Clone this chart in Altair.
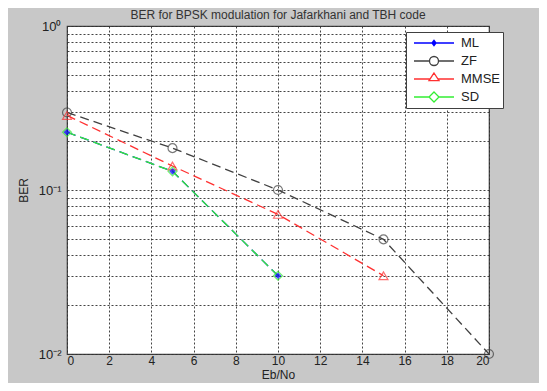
import altair as alt
import pandas as pd

title_text = "BER for BPSK modulation for Jafarkhani and TBH code"
series = ["ML", "ZF", "MMSE", "SD"]
colors = ["#0000ff", "#404040", "#ff3030", "#33ee33"]

x_ml = [0, 5, 10]
ber_ml = [0.225, 0.13, 0.03]
x_zf = [0, 5, 10, 15, 20]
ber_zf = [0.297, 0.18, 0.1, 0.05, 0.01]
x_mmse = [0, 5, 10, 15]
ber_mmse = [0.285, 0.14, 0.071, 0.03]
x_sd = [0, 5, 10]
ber_sd = [0.225, 0.13, 0.03]

x_ticks = list(range(0, 21, 2))
y_ticks = [k * 0.01 for k in range(1, 10)] + [k * 0.1 for k in range(1, 11)]

rows = []
for name, xs, ys in [("ML", x_ml, ber_ml), ("ZF", x_zf, ber_zf),
                     ("MMSE", x_mmse, ber_mmse), ("SD", x_sd, ber_sd)]:
    for i, (a, b) in enumerate(zip(xs, ys)):
        rows.append({"series": name, "x": a, "ber": b, "idx": i})
df = pd.DataFrame(rows)

legend_paths = [
    "M-1,0H1M-0.1,0L0,-0.13L0.1,0L0,0.13ZM-0.05,0L0,-0.06L0.05,0L0,0.06Z",
    "M-1,0H-0.225M0.225,0H1M0.225,0A0.225,0.225,0,1,1,-0.225,0A0.225,0.225,0,1,1,0.225,0Z",
    "M-1,0H-0.22M0.22,0H1M0,-0.3L0.25,0.08L-0.25,0.08Z",
    "M-1,0H-0.25M0.25,0H1M0,-0.25L0.25,0L0,0.25L-0.25,0Z",
]

font = "Liberation Sans"
xenc = alt.X("x:Q", scale=alt.Scale(domain=[0, 20], nice=False),
             axis=alt.Axis(values=x_ticks, format="d", title="Eb/No", grid=True,
                           gridDash=[2, 2], gridColor="#303030", gridOpacity=0.9,
                           domain=False, ticks=False, labelPadding=1,
                           titlePadding=3, labelFontSize=12))
yenc = alt.Y("ber:Q", scale=alt.Scale(type="log", domain=[0.01, 1], nice=False),
             axis=alt.Axis(values=y_ticks, title="BER", grid=True,
                           gridDash=[2, 2], gridColor="#303030", gridOpacity=0.9,
                           domain=False, ticks=False, labelPadding=6,
                           titlePadding=8,
                           labelExpr="datum.value > 0.99 ? '10\u2070' : (abs(datum.value - 0.1) < 1e-9 ? '10\u207b\u00b9' : (abs(datum.value - 0.01) < 1e-9 ? '10\u207b\u00b2' : ''))"))

cscale = alt.Scale(domain=series, range=colors)
base = alt.Chart(df)

leg = alt.Legend(title=None, orient="none", legendX=339, legendY=6,
                 symbolSize=1600, symbolStrokeWidth=1.3,
                 symbolOpacity=1,
                 clipHeight=16, rowPadding=2,
                 padding=3, symbolOffset=4, labelOffset=6,
                 labelFont=font, labelFontSize=13,
                 labelColor="#222222",
                 strokeColor="#404040", fillColor="white")

line_layers = []
for name in series:
    line_layers.append(
        base.transform_filter(alt.datum.series == name).mark_line(
            strokeDash=[9, 5], strokeWidth=1.3).encode(
            x=xenc, y=yenc,
            color=alt.Color("series:N", scale=cscale, legend=leg),
            order="idx:Q",
        )
    )

marker_shapes = {"ZF": "circle", "MMSE": "triangle-up", "SD": "diamond"}
pt_layers = []
for name in ["ZF", "MMSE", "SD"]:
    pt_layers.append(
        base.transform_filter(alt.datum.series == name).mark_point(
            filled=False, size=80, strokeWidth=1.2, shape=marker_shapes[name],
            clip=False).encode(
            x="x:Q", y="ber:Q",
            color=alt.Color("series:N", scale=cscale, legend=leg),
        )
    )
pt_layers.append(
    base.transform_filter(alt.datum.series == "ML").mark_point(
        filled=False, size=10, strokeWidth=2.5, shape="diamond", clip=False).encode(
        x="x:Q", y="ber:Q",
        color=alt.Color("series:N", scale=cscale, legend=leg),
    )
)

legend_layer = base.mark_point(filled=False, opacity=0).encode(
    x="x:Q", y="ber:Q",
    color=alt.Color("series:N", scale=cscale, legend=leg),
    shape=alt.Shape("series:N", scale=alt.Scale(domain=series, range=legend_paths),
                    legend=leg),
)

chart = alt.layer(legend_layer, *line_layers, *pt_layers).properties(
    width=422, height=328,
    title=alt.Title(title_text, fontSize=12, font=font, fontWeight="normal",
                    color="#333333", offset=-2),
    background="#c8c8c8",
    padding={"left": 59, "top": 18, "right": 50, "bottom": 29},
    autosize=alt.AutoSizeParams(type="none"),
).configure_view(
    fill="white", stroke="#404040", strokeWidth=1.2
).configure_axis(
    labelFont=font, labelFontSize=13, labelColor="#222222",
    titleFont=font, titleFontSize=12, titleColor="#222222", titleFontWeight="normal",
)

chart.save("out.html", embed_options={"renderer": "svg", "actions": False})
